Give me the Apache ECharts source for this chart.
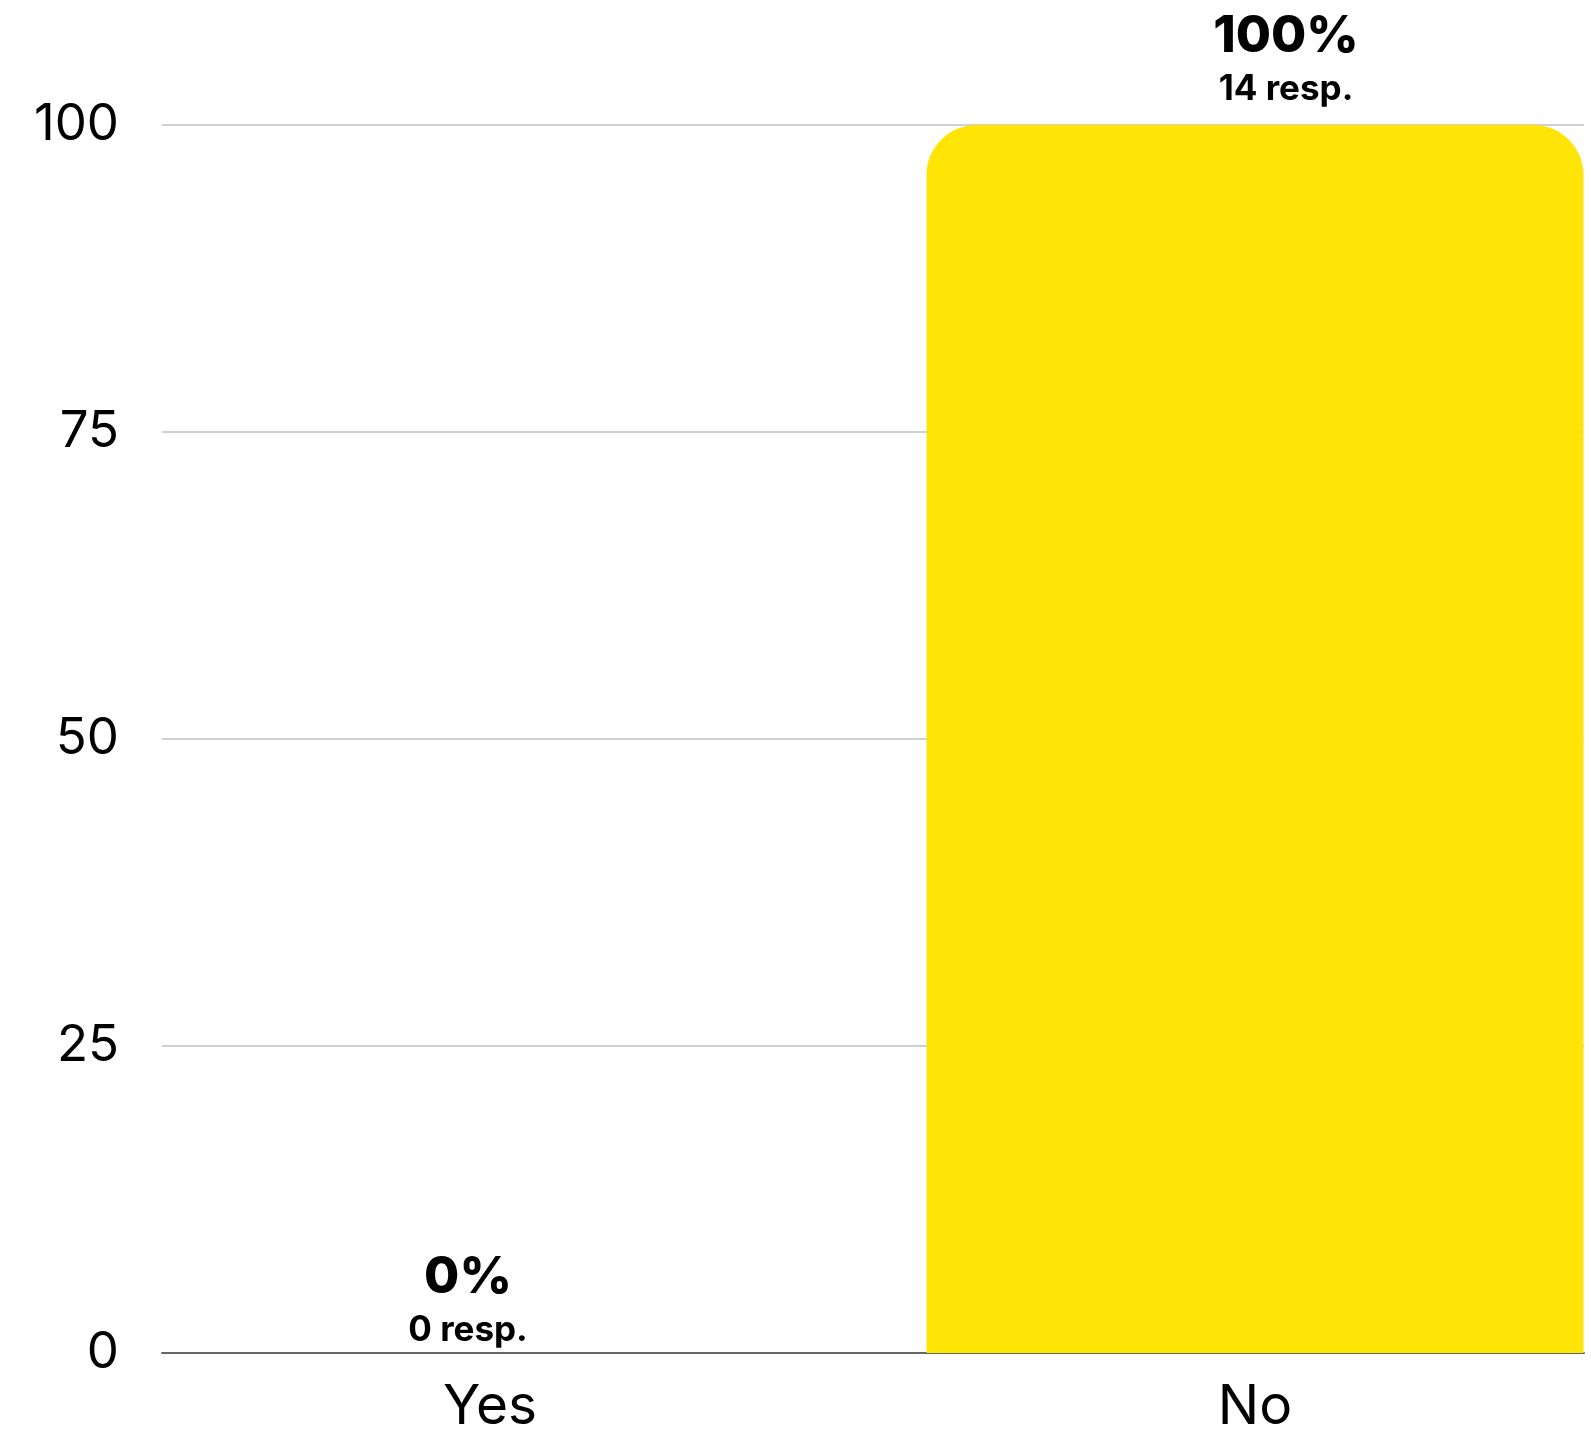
<!DOCTYPE html>
<html>
<head>
<meta charset="utf-8">
<script src="https://cdn.jsdelivr.net/npm/echarts@6/dist/echarts.min.js"></script>
<style>
html,body{margin:0;padding:0;background:#fff;}
#chart{width:1591px;height:1435px;}
</style>
</head>
<body>
<div id="chart"></div>
<script>
const categories = ['Yes', 'No'];
const percentValues = [0, 100];
const responseCounts = [0, 14];
const yTicks = [0, 25, 50, 75, 100];

const labelOffsets = [[-22, 13], [31, 0]];

const chart = echarts.init(document.getElementById('chart'));
const FONT = 'Inter, "Noto Sans", sans-serif';

const option = {
  animation: false,
  backgroundColor: '#ffffff',
  grid: [
    { left: 162, right: 7, top: 125, bottom: 82, outerBoundsMode: 'none', containLabel: false },
    { left: 107.5, width: 1530, top: 125, bottom: 82, outerBoundsMode: 'none', containLabel: false }
  ],
  xAxis: [
    {
      gridIndex: 0, type: 'category', data: categories,
      axisLine: { show: true, lineStyle: { color: '#666666', width: 2 } },
      axisTick: { show: false }, axisLabel: { show: false }, splitLine: { show: false }
    },
    {
      gridIndex: 1, type: 'category', data: categories,
      axisLine: { show: false }, axisTick: { show: false },
      axisLabel: { show: true, color: '#000000', fontFamily: FONT, fontSize: 55, fontWeight: 400, margin: 27 }
    }
  ],
  yAxis: [
    {
      gridIndex: 0, type: 'value', min: yTicks[0], max: yTicks[yTicks.length - 1], interval: 25,
      axisLine: { show: false }, axisTick: { show: false },
      splitLine: { show: true, lineStyle: { color: '#c0c0c0', width: 1.5 } },
      axisLabel: { color: '#000000', fontFamily: FONT, fontSize: 51, fontWeight: 400, margin: 43, padding: [0, 0, 10, 0] }
    },
    {
      gridIndex: 1, type: 'value', min: 0, max: 100, show: false
    }
  ],
  series: [
    {
      type: 'bar',
      xAxisIndex: 1, yAxisIndex: 1,
      barWidth: 657,
      itemStyle: { color: '#FFE506', borderRadius: [50, 50, 0, 0] },
      data: percentValues.map((v, i) => ({
        value: v,
        label: { offset: labelOffsets[i] }
      })),
      label: {
        show: true,
        position: 'top',
        distance: 10,
        color: '#000000',
        fontFamily: FONT,
        formatter: (p) => '{a|' + percentValues[p.dataIndex] + '%}\n{b|' + responseCounts[p.dataIndex] + ' resp.}',
        rich: {
          a: { fontFamily: FONT, fontSize: 51, fontWeight: 800, lineHeight: 52, color: '#000000' },
          b: { fontFamily: FONT, fontSize: 35, fontWeight: 700, lineHeight: 52, color: '#000000' }
        }
      }
    }
  ]
};
chart.setOption(option);
</script>
</body>
</html>
